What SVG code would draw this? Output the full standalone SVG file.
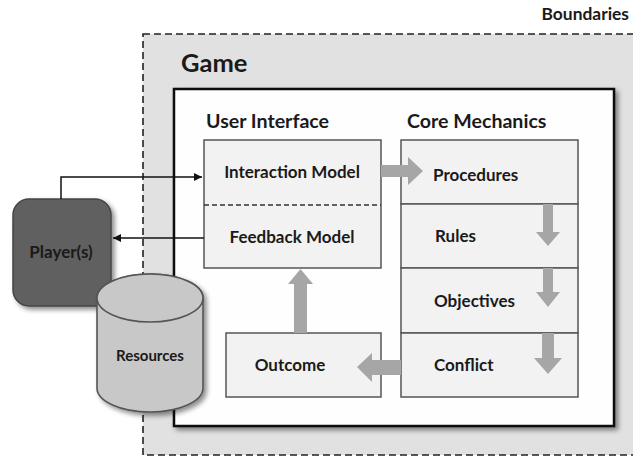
<svg xmlns="http://www.w3.org/2000/svg" width="633" height="459" viewBox="0 0 633 459">
<defs>
<filter id="sh" x="-20%" y="-20%" width="150%" height="150%">
<feGaussianBlur in="SourceAlpha" stdDeviation="2.5"/>
<feOffset dx="3" dy="3" result="b"/>
<feComponentTransfer><feFuncA type="linear" slope="0.45"/></feComponentTransfer>
<feMerge><feMergeNode/><feMergeNode in="SourceGraphic"/></feMerge>
</filter>
<marker id="ah" viewBox="0 0 10 10" refX="10" refY="5" markerWidth="8" markerHeight="8" markerUnits="userSpaceOnUse" orient="auto">
<path d="M0,0 L10,5 L0,10 z" fill="#111"/>
</marker>
<style>
text{font-family:Lato,"Open Sans","Liberation Sans",sans-serif;font-weight:bold;fill:#1a1a1a}
.box{fill:#f2f2f2;stroke:#555;stroke-width:1.5}
.lbl{font-size:17px}
.hd{font-size:19.6px}
.ga{fill:#a6a6a6;stroke:none}
.ln{fill:none;stroke:#111;stroke-width:1.5}
</style>
</defs>
<rect width="633" height="459" fill="#ffffff"/>
<g id="boundaries">
<rect x="143" y="34" width="510" height="421" fill="#e1e1e1" stroke="#222" stroke-width="1.6" stroke-dasharray="7,4"/>
<text x="629" y="20" font-size="17.4" text-anchor="end">Boundaries</text>
</g>
<g id="game">
<rect x="174" y="89" width="440" height="337" fill="#fefefe" stroke="#111" stroke-width="2.5" filter="url(#sh)"/>
<text x="181" y="72" font-size="25.5">Game</text>
<text class="hd" x="206" y="128">User Interface</text>
<text class="hd" x="407" y="128">Core Mechanics</text>
</g>
<g id="interaction-model">
<rect class="box" x="204" y="140" width="177" height="128"/>
<line x1="204" y1="205" x2="381" y2="205" stroke="#333" stroke-width="1.3" stroke-dasharray="5,3"/>
<text class="lbl" x="292" y="178" text-anchor="middle">Interaction Model</text>
</g>
<g id="feedback-model">
<text class="lbl" x="292" y="243" text-anchor="middle">Feedback Model</text>
</g>
<g id="procedures">
<rect class="box" x="401" y="140" width="177" height="64"/>
<text class="lbl" x="433" y="181">Procedures</text>
</g>
<g id="rules">
<rect class="box" x="401" y="204" width="177" height="64"/>
<text class="lbl" x="435" y="242">Rules</text>
</g>
<g id="objectives">
<rect class="box" x="401" y="268" width="177" height="65"/>
<text class="lbl" x="434" y="307">Objectives</text>
</g>
<g id="conflict">
<rect class="box" x="401" y="333" width="177" height="64"/>
<text class="lbl" x="434" y="371">Conflict</text>
</g>
<g id="outcome">
<rect class="box" x="226" y="333" width="155" height="64"/>
<text class="lbl" x="290" y="371" text-anchor="middle">Outcome</text>
</g>
<g id="players">
<rect x="13" y="199" width="98" height="107" rx="16" ry="16" fill="#606060" stroke="#444" stroke-width="1.5" filter="url(#sh)"/>
<text class="lbl" x="61" y="258" text-anchor="middle">Player(s)</text>
</g>
<g id="resources">
<g filter="url(#sh)">
<path d="M97,298 V388 A53,24 0 0 0 203,388 V298 A53,24 0 0 0 97,298 z" fill="#c8c8c8" stroke="#555" stroke-width="1.6"/>
</g>
<ellipse cx="150" cy="298" rx="53" ry="24" fill="#c8c8c8" stroke="#555" stroke-width="1.6"/>
<text x="150" y="361" font-size="15" text-anchor="middle">Resources</text>
</g>
<g id="connectors">
<path class="ln" d="M61,199 V177 H202" marker-end="url(#ah)"/>
<path class="ln" d="M204,238 H113" marker-end="url(#ah)"/>
<polygon class="ga" points="381,165 408,165 408,157 423,171 408,185 408,177 381,177"/>
<polygon class="ga" points="543,204 553,204 553,232 560,232 548,246 536,232 543,232"/>
<polygon class="ga" points="543,268 553,268 553,292 560,292 548,307 536,292 543,292"/>
<polygon class="ga" points="542,333 554,333 554,358 562,358 548,374 534,358 542,358"/>
<polygon class="ga" points="401,360 372,360 372,353 357,367 372,382 372,375 401,375"/>
<polygon class="ga" points="294,333 294,284 288,284 300.5,269 313,284 307,284 307,333"/>
</g>
</svg>
